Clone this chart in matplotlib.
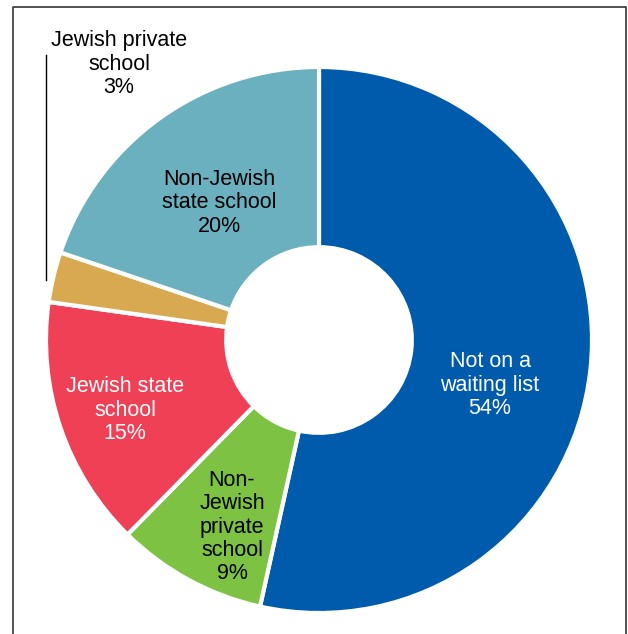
import matplotlib.pyplot as plt

labels = ["Not on a\nwaiting list\n54%", "Non-\nJewish\nprivate\nschool\n9%",
          "Jewish state\nschool\n15%", "Jewish private\nschool\n3%",
          "Non-Jewish\nstate school\n20%"]
shares = [54, 9, 15, 3, 20]
colors = ["#005BAC", "#7DC242", "#EF4056", "#D9A951", "#6AB0BE"]

W, H = 628, 634


def draw_donut():
    fig = plt.figure(figsize=(W / 100, H / 100), dpi=100)
    ax = fig.add_axes([0, 0, 1, 1])

    cx, cy, r = 319, H - 340, 273
    ax.pie(shares, colors=colors, startangle=90, counterclock=False,
           center=(cx, cy), radius=r, frame=True,
           wedgeprops=dict(width=r * 0.66, edgecolor='white', linewidth=3))
    ax.set_xlim(0, W)
    ax.set_ylim(0, H)
    ax.set_aspect('equal')
    ax.axis('off')

    font = dict(family='Liberation Sans', fontsize=15.5, ha='center',
                va='center', linespacing=1.15)
    pos = [(490, 385, 'white'), (232, 527, 'black'), (125, 410, 'white'),
           (119, 64, 'black'), (219, 203, 'black')]
    for lab, (x, y, c) in zip(labels, pos):
        ax.text(x, H - y, lab, color=c, **font)

    # leader line for the small slice
    ax.plot([46, 46], [H - 55, H - 280], color='black', lw=1)

    # frame open at the bottom
    ax.plot([12.5, 12.5, 625.5, 625.5], [0, H - 6.5, H - 6.5, 0],
            color='#333333', lw=1.2)

    fig.savefig('out.png', dpi=100)


if __name__ == '__main__':
    draw_donut()
